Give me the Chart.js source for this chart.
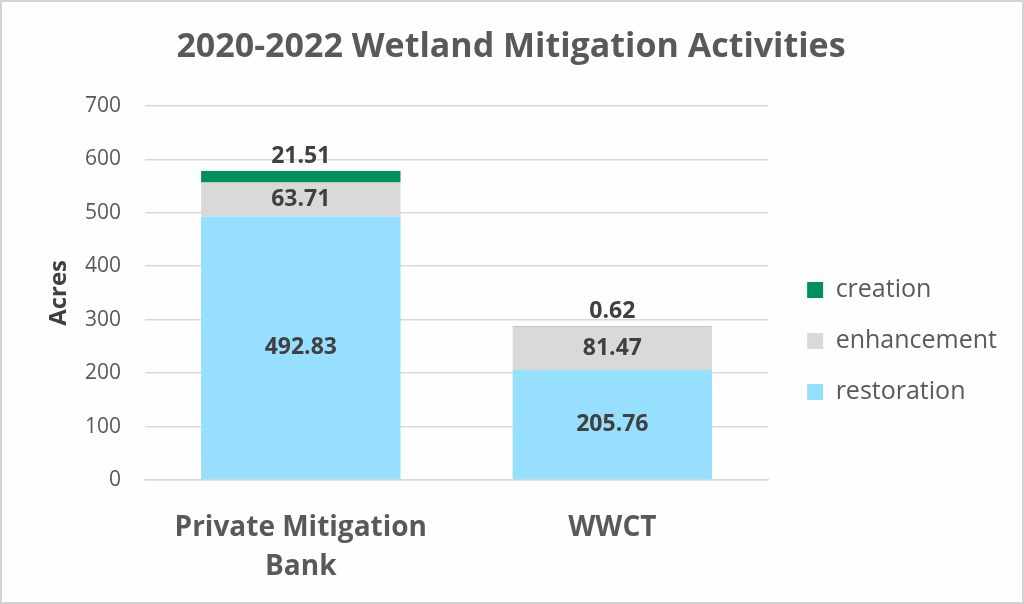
<!DOCTYPE html>
<html>
<head>
<meta charset="utf-8">
<script src="https://cdn.jsdelivr.net/npm/chart.js@4"></script>
<style>
  html, body { margin: 0; padding: 0; background: #fff; }
  #wrap { width: 1024px; height: 604px; box-sizing: border-box; border: 2px solid #d4d4d4; background: #fefefe; position: relative; }
  canvas { position: absolute; left: -2px; top: -2px; }
</style>
</head>
<body>
<div id="wrap"><canvas id="chart" width="1024" height="604"></canvas></div>
<script>
const categories = [['Private Mitigation', 'Bank'], 'WWCT'];
const restoration = [492.83, 205.76];
const enhancement = [63.71, 81.47];
const creation = [21.51, 0.62];
const yTicks = [0, 100, 200, 300, 400, 500, 600, 700];

const textDark = '#404040';
const textGray = '#595959';

// draws the value labels, the top series sits just above the bar
const valueLabels = {
    id: 'valueLabels',
    afterDatasetsDraw(chart) {
        const ctx = chart.ctx;
        ctx.save();
        ctx.font = 'bold 23px "Open Sans"';
        ctx.fillStyle = textDark;
        ctx.textAlign = 'center';
        ctx.textBaseline = 'middle';
        chart.data.datasets.forEach((ds, di) => {
            const meta = chart.getDatasetMeta(di);
            meta.data.forEach((el, i) => {
                const p = el.getProps(['x', 'y', 'base'], true);
                const y = ds.labelAbove ? p.y - 15 : (p.y + p.base) / 2;
                ctx.fillText(ds.data[i].toFixed(2), p.x, y);
            });
        });
        ctx.restore();
    }
};

// nudge the legend lower and away from the plot, keep the title centred on the page
const layoutShift = {
    id: 'layoutShift',
    afterLayout(chart) {
        const lg = chart.legend;
        lg.left += 13; lg.right += 13;
        lg.top += 39; lg.bottom += 39;
        const tb = chart.titleBlock;
        tb.left += 14; tb.right += 14;
    }
};

new Chart(document.getElementById('chart'), {
    type: 'bar',
    data: {
        labels: categories,
        datasets: [
            { label: 'restoration', data: restoration, backgroundColor: '#97dfff' },
            { label: 'enhancement', data: enhancement, backgroundColor: '#d9d9d9' },
            { label: 'creation', data: creation, backgroundColor: '#00905a', labelAbove: true }
        ]
    },
    options: {
        responsive: false,
        animation: false,
        categoryPercentage: 0.64,
        barPercentage: 1,
        layout: { padding: { left: 0, right: 30, top: 0, bottom: 0 } },
        plugins: {
            title: {
                display: true,
                text: '2020-2022 Wetland Mitigation Activities',
                color: textGray,
                font: { family: 'Open Sans', size: 34, weight: 'bold' },
                padding: { top: 27, bottom: 38 }
            },
            legend: {
                position: 'right',
                reverse: true,
                labels: {
                    color: textGray,
                    font: { family: 'Open Sans', size: 25 },
                    boxWidth: 16,
                    boxHeight: 16,
                    padding: 26
                }
            },
            tooltip: { enabled: false }
        },
        scales: {
            x: {
                stacked: true,
                afterFit: axis => { axis.height = 124; },
                grid: { display: false },
                border: { color: '#d9d9d9', width: 1.5 },
                ticks: {
                    color: textGray,
                    font: { family: 'Open Sans', size: 28, weight: 'bold', lineHeight: 1.4 },
                    padding: 20
                }
            },
            y: {
                stacked: true,
                min: 0,
                max: 700,
                afterBuildTicks: axis => { axis.ticks = yTicks.map(v => ({ value: v })); },
                afterFit: axis => { axis.width = 145; },
                grid: { color: '#d9d9d9', lineWidth: 1.5, drawTicks: false },
                border: { display: false },
                ticks: {
                    color: textGray,
                    font: { family: 'Open Sans', size: 21 },
                    padding: 24
                },
                title: {
                    display: true,
                    text: 'Acres',
                    color: textDark,
                    font: { family: 'Open Sans', size: 24, weight: 'bold' },
                    padding: { top: 45, bottom: 0 }
                }
            }
        }
    },
    plugins: [valueLabels, layoutShift]
});
</script>
</body>
</html>
